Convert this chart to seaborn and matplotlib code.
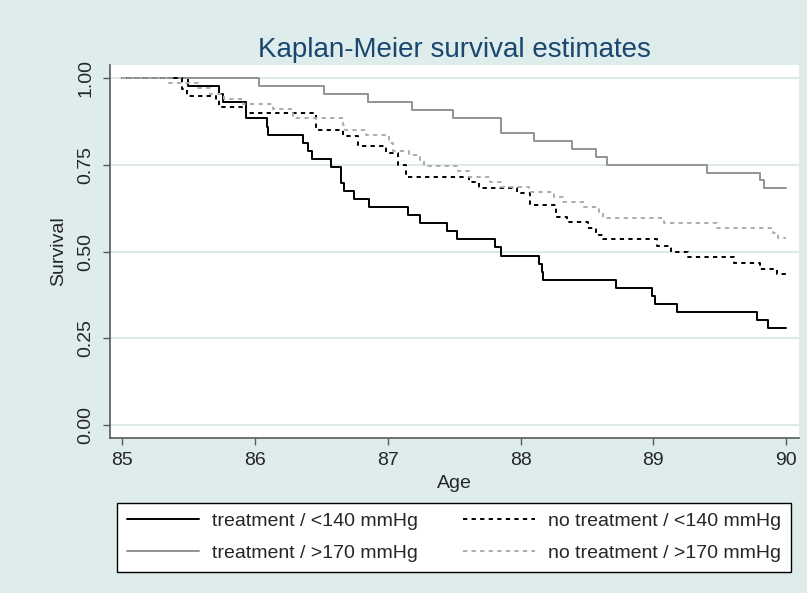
import pandas as pd
import matplotlib
matplotlib.use("Agg")
import matplotlib.pyplot as plt
import seaborn as sns

# Kaplan-Meier step data (age, survival after the step)
age_t140 = [85.0, 85.50, 85.73, 85.76, 85.93, 86.09, 86.10, 86.36, 86.40, 86.43,
            86.57, 86.65, 86.67, 86.75, 86.86, 87.15, 87.24, 87.45, 87.52, 87.81,
            87.85, 88.14, 88.16, 88.17, 88.72, 88.99, 89.01, 89.18, 89.78, 89.86, 90.0]
surv_t140 = [1.0, 0.977, 0.953, 0.930, 0.884, 0.860, 0.837, 0.814, 0.791, 0.767,
             0.744, 0.698, 0.674, 0.651, 0.628, 0.605, 0.581, 0.558, 0.535, 0.512,
             0.488, 0.465, 0.442, 0.419, 0.395, 0.372, 0.349, 0.326, 0.302, 0.279, 0.279]

age_t170 = [85.0, 86.03, 86.52, 86.85, 87.18, 87.49, 87.85, 88.10, 88.39, 88.57,
            88.65, 89.40, 89.80, 89.83, 90.0]
surv_t170 = [1.0, 0.977, 0.955, 0.932, 0.909, 0.886, 0.841, 0.818, 0.795, 0.773,
             0.750, 0.727, 0.705, 0.682, 0.682]

age_nt140 = [85.0, 85.455, 85.49, 85.71, 85.73, 85.93, 86.46, 86.665, 86.78, 86.99,
             87.08, 87.14, 87.61, 87.69, 87.97, 88.07, 88.27, 88.35, 88.51, 88.57,
             88.62, 89.03, 89.13, 89.26, 89.61, 89.80, 89.93, 90.0]
surv_nt140 = [1.0, 0.969, 0.950, 0.937, 0.916, 0.899, 0.851, 0.834, 0.803, 0.784,
              0.750, 0.716, 0.700, 0.683, 0.668, 0.635, 0.601, 0.585, 0.567, 0.548,
              0.536, 0.517, 0.500, 0.485, 0.467, 0.450, 0.435, 0.435]

age_nt170 = [85.0, 85.35, 85.57, 85.66, 85.77, 85.91, 86.14, 86.29, 86.66, 86.68,
             86.84, 87.01, 87.04, 87.16, 87.24, 87.27, 87.53, 87.61, 87.77, 87.85,
             88.06, 88.25, 88.32, 88.47, 88.59, 88.62, 89.08, 89.48, 89.90, 89.94, 90.0]
surv_nt170 = [1.0, 0.986, 0.971, 0.954, 0.939, 0.925, 0.911, 0.885, 0.865, 0.851,
              0.836, 0.813, 0.790, 0.777, 0.760, 0.748, 0.731, 0.716, 0.700, 0.685,
              0.671, 0.656, 0.642, 0.628, 0.611, 0.597, 0.582, 0.567, 0.553, 0.539, 0.539]

labels = ["treatment / <140 mmHg", "treatment / >170 mmHg",
          "no treatment / <140 mmHg", "no treatment / >170 mmHg"]
y_ticks = [0.0, 0.25, 0.5, 0.75, 1.0]
x_ticks = [85, 86, 87, 88, 89, 90]

sns.set_style("white")
plt.rcParams['font.family'] = ['Liberation Sans', 'DejaVu Sans']

bg = '#dfecec'
fig = plt.figure(figsize=(8.07, 5.93), dpi=100, facecolor=bg)
ax = fig.add_axes([110/807, 1 - 437.7/593, 689/807, 372.7/593])
ax.set_facecolor('white')

series = [
    (age_t140, surv_t140, labels[0], 'black', '-'),
    (age_t170, surv_t170, labels[1], '#939393', '-'),
    (age_nt140, surv_nt140, labels[2], 'black', (0, (2.2, 2.2))),
    (age_nt170, surv_nt170, labels[3], '#acacac', (0, (2.2, 2.2))),
]
for ages, surv, lab, col, ls in series:
    d = pd.DataFrame({'age': ages, 'surv': surv})
    sns.lineplot(data=d, x='age', y='surv', ax=ax, color=col, linestyle=ls,
                 lw=1.4, drawstyle='steps-post', estimator=None, legend=False,
                 label=lab)

ax.set_xlim(84.91, 90.096)
ax.set_ylim(-0.037, 1.038)
ax.set_xticks(x_ticks)
ax.set_yticks(y_ticks)
ax.set_yticklabels([f"{v:.2f}" for v in y_ticks], rotation=90, va='center')
ax.tick_params(axis='both', direction='out', length=5, width=1, color='#5a5a5a',
               labelsize=14, pad=5.5, bottom=True, left=True)
ax.tick_params(axis='y', pad=6.5)
ax.yaxis.grid(True, color='#dbe7e9', lw=1.3)
ax.xaxis.grid(False)
ax.set_axisbelow(True)
for s in ['top', 'right']:
    ax.spines[s].set_visible(False)
for s in ['left', 'bottom']:
    ax.spines[s].set_color('#5a5a5a')
    ax.spines[s].set_linewidth(1.2)

ax.set_xlabel('Age', fontsize=14, labelpad=4)
ax.set_ylabel('Survival', fontsize=14, labelpad=7)
ax.set_title('Kaplan-Meier survival estimates', fontsize=20, color='#1a476f', pad=6)

handles, labs = ax.get_legend_handles_labels()
fig.legend(handles, labs, ncol=2, loc='lower left',
           bbox_to_anchor=(117/807, 1 - 572/593, 674/807, 69/593), mode='expand',
           borderaxespad=0, fancybox=False, edgecolor='black', framealpha=1,
           fontsize=14, handlelength=3.7, handletextpad=0.7, labelspacing=0.75,
           borderpad=0.5)
fig.legends[0].get_frame().set_linewidth(1.0)

fig.savefig('out.png', dpi=100, facecolor=bg)
